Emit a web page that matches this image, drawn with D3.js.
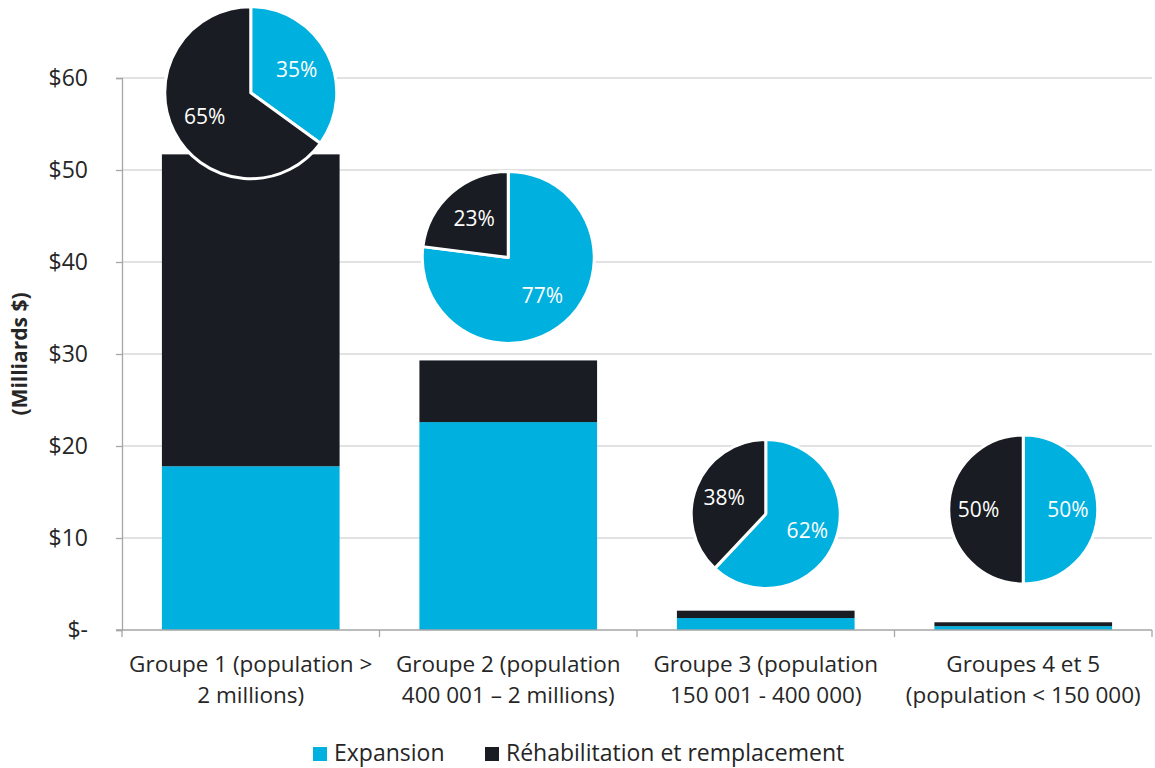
<!DOCTYPE html>
<html>
<head>
<meta charset="utf-8">
<script src="https://cdn.jsdelivr.net/npm/d3@7"></script>
<style>
  body { margin: 0; background: #fff; }
  svg text { font-family: "Open Sans", sans-serif; fill: #262626; }
</style>
</head>
<body>
<script>
// categories (two-line labels)
const categories = ['g1', 'g2', 'g3', 'g4'];
const categoryLabels = [
    ['Groupe 1 (population >', '2 millions)'],
    ['Groupe 2 (population', '400 001 – 2 millions)'],
    ['Groupe 3 (population', '150 001 - 400 000)'],
    ['Groupes 4 et 5', '(population < 150 000)']
];

// stacked bar values, billions $
const expansion = [17.8, 22.6, 1.3, 0.42];
const rehab = [33.9, 6.7, 0.8, 0.42];

// pie shares, percent
const pieExpansion = [35, 77, 62, 50];
const pieRehab = [65, 23, 38, 50];

const yTicks = [0, 10, 20, 30, 40, 50, 60];
const seriesNames = ['Expansion', 'Réhabilitation et remplacement'];

const WIDTH = 1155;
const HEIGHT = 768;
const BLUE = '#00b0de';
const DARK = '#191c22';
const FONT = '"Open Sans", sans-serif';

// layout of the pies (centre in y-units, radius in px)
const pieLayout = [
    { cy: 58.4, r: 86 },
    { cy: 40.5, r: 86 },
    { cy: 12.6, r: 74.5 },
    { cy: 13.1, r: 74.5 }
];

const margin = { left: 122, right: 3, top: 78, bottom: 138 };

const svg = d3.select('body').append('svg')
    .attr('width', WIDTH)
    .attr('height', HEIGHT);

const x = d3.scaleBand()
    .domain(categories)
    .range([margin.left, WIDTH - margin.right])
    .paddingInner(0)
    .paddingOuter(0);

const y = d3.scaleLinear()
    .domain([0, 60])
    .range([HEIGHT - margin.bottom, margin.top]);

const barW = x.bandwidth() * 0.69;

// gridlines
svg.append('g')
    .selectAll('line')
    .data(yTicks.filter(d => d > 0))
    .enter()
    .append('line')
    .attr('x1', margin.left)
    .attr('x2', WIDTH - margin.right)
    .attr('y1', d => y(d))
    .attr('y2', d => y(d))
    .attr('stroke', '#d9d9d9')
    .attr('stroke-width', 1.3);

// y axis
const yAxis = svg.append('g')
    .attr('transform', `translate(${margin.left},0)`)
    .call(d3.axisLeft(y).tickValues(yTicks).tickSize(6).tickPadding(28)
        .tickFormat(d => d === 0 ? '$-' : '$' + d));
yAxis.select('.domain').attr('stroke', '#a6a6a6').attr('stroke-width', 1.3);
yAxis.selectAll('.tick line').attr('stroke', '#a6a6a6').attr('stroke-width', 1.3);
yAxis.selectAll('.tick text')
    .attr('font-size', 23)
    .attr('font-family', FONT)
    .attr('fill', '#262626');

// stacked bars
const stackData = categories.map((c, i) => ({ cat: c, exp: expansion[i], reh: rehab[i] }));
const stack = d3.stack().keys(['exp', 'reh'])(stackData);
const colors = [BLUE, DARK];

svg.append('g')
    .selectAll('g')
    .data(stack)
    .enter()
    .append('g')
    .attr('fill', (d, i) => colors[i])
    .selectAll('rect')
    .data(d => d)
    .enter()
    .append('rect')
    .attr('x', d => x(d.data.cat) + (x.bandwidth() - barW) / 2)
    .attr('width', barW)
    .attr('y', d => y(d[1]))
    .attr('height', d => y(d[0]) - y(d[1]));

// x axis
const xAxisY = y(0);
svg.append('line')
    .attr('x1', margin.left - 6)
    .attr('x2', WIDTH - margin.right)
    .attr('y1', xAxisY)
    .attr('y2', xAxisY)
    .attr('stroke', '#a6a6a6')
    .attr('stroke-width', 1.3);

const boundaries = categories.map(c => x(c)).concat([x.range()[1]]);
svg.append('g')
    .selectAll('line')
    .data(boundaries)
    .enter()
    .append('line')
    .attr('x1', d => d)
    .attr('x2', d => d)
    .attr('y1', xAxisY)
    .attr('y2', xAxisY + 7)
    .attr('stroke', '#a6a6a6')
    .attr('stroke-width', 1.3);

// each label line is its own text element
const labelLines = [];
categoryLabels.forEach((lines, i) => {
    lines.forEach((t, j) => labelLines.push({ cat: categories[i], line: j, text: t }));
});
svg.append('g')
    .selectAll('text')
    .data(labelLines)
    .enter()
    .append('text')
    .attr('text-anchor', 'middle')
    .attr('font-size', 22.5)
    .attr('x', d => x(d.cat) + x.bandwidth() / 2)
    .attr('y', d => xAxisY + 42 + d.line * 31)
    .text(d => d.text);

// y title
svg.append('text')
    .attr('transform', `translate(27, ${(y(0) + y(60)) / 2}) rotate(-90)`)
    .attr('text-anchor', 'middle')
    .attr('font-size', 21)
    .attr('font-weight', 'bold')
    .text('(Milliards $)');

// pies
const pie = d3.pie().sort(null).value(d => d);
categories.forEach((c, i) => {
    const lay = pieLayout[i];
    const cx = x(c) + x.bandwidth() / 2;
    const cy = y(lay.cy);
    const arc = d3.arc().innerRadius(0).outerRadius(lay.r);
    const labelArc = d3.arc().innerRadius(lay.r * 0.6).outerRadius(lay.r * 0.6);
    const g = svg.append('g').attr('transform', `translate(${cx},${cy})`);
    const slices = pie([pieExpansion[i], pieRehab[i]]);
    g.selectAll('path')
        .data(slices)
        .enter()
        .append('path')
        .attr('d', arc)
        .attr('fill', (d, j) => colors[j])
        .attr('stroke', '#fff')
        .attr('stroke-width', 3)
        .attr('stroke-linejoin', 'round');
    g.selectAll('text')
        .data(slices)
        .enter()
        .append('text')
        .attr('transform', d => `translate(${labelArc.centroid(d)})`)
        .attr('text-anchor', 'middle')
        .attr('dy', '0.35em')
        .attr('font-size', 21)
        .style('fill', '#fff')
        .text(d => d.data + '%');
});

// legend
const legend = svg.append('g').attr('transform', `translate(313, 747)`);
const legendX = [0, 172];
seriesNames.forEach((name, i) => {
    legend.append('rect')
        .attr('x', legendX[i])
        .attr('y', 0)
        .attr('width', 14)
        .attr('height', 14)
        .attr('fill', colors[i]);
    legend.append('text')
        .attr('x', legendX[i] + 21)
        .attr('y', 14)
        .attr('font-size', 23)
        .text(name);
});
</script>
</body>
</html>
